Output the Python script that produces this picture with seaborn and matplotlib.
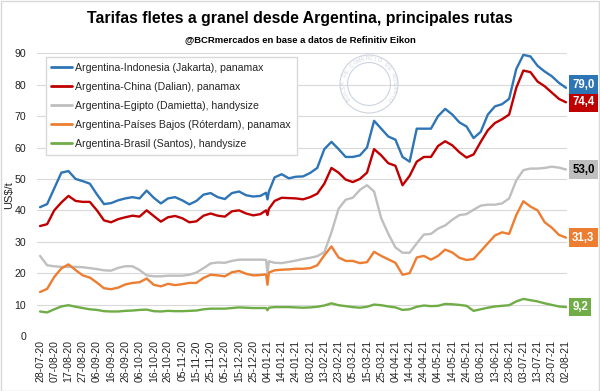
import numpy as np
import pandas as pd
import matplotlib
matplotlib.use("Agg")
import matplotlib.pyplot as plt
import matplotlib.dates as mdates
from matplotlib.patches import Ellipse, Rectangle
import seaborn as sns

# Sampling grid (every 5 days) and extra points around the 04-01-21 glitch
START = "2020-07-28"
END = "2021-08-02"
STEP = "5D"
EXTRA_DATES = ["2021-01-03", "2021-01-05"]

ROUTES = [
    "Argentina-Indonesia (Jakarta), panamax",
    "Argentina-China (Dalian), panamax",
    "Argentina-Egipto (Damietta), handysize",
    "Argentina-Países Bajos (Róterdam), panamax",
    "Argentina-Brasil (Santos), handysize",
]
COLORS = ["#2E75B6", "#C00000", "#BFBFBF", "#ED7D31", "#70AD47"]
LABEL_TEXT = ["white", "white", "black", "white", "white"]

INDONESIA = [41.0, 42.0, 47.0, 52.0, 52.5, 50.0, 49.3, 48.5, 45.1, 42.0, 42.3, 43.2, 43.8, 44.2, 43.8, 46.3, 44.0, 42.2, 43.8,
             44.2, 43.2, 41.9, 43.0, 45.0, 45.5, 44.2, 43.6, 45.5, 46.0, 44.8, 44.4, 44.6, 43.5, 50.5, 51.5, 50.2, 50.7,
             50.8, 51.9, 53.5, 59.5, 61.8, 59.5, 57.0, 57.0, 57.5, 60.0, 68.5, 66.0, 63.5, 62.5, 57.0, 55.5, 66.0, 66.0, 66.0,
             70.0, 72.3, 70.5, 68.0, 66.7, 63.0, 65.0, 70.5, 73.1, 73.8, 75.5, 85.0, 89.5, 89.0, 86.0, 84.2, 82.7, 80.6, 79.0]
CHINA = [35.0, 35.6, 40.0, 42.5, 44.6, 43.0, 42.7, 42.7, 40.0, 36.8, 36.2, 37.2, 37.8, 38.3, 38.0, 40.0, 38.2, 36.4, 37.8,
         38.2, 37.5, 36.2, 36.5, 38.3, 39.0, 38.3, 38.0, 39.7, 40.0, 39.0, 38.4, 38.8, 38.5, 43.0, 44.0, 43.9, 43.8,
         43.5, 44.2, 45.3, 48.5, 53.5, 52.0, 49.8, 49.0, 50.0, 52.0, 59.5, 57.5, 55.0, 54.2, 48.0, 51.0, 55.5, 57.0, 57.0,
         60.5, 62.0, 60.7, 58.5, 56.8, 57.8, 61.8, 65.5, 67.8, 69.0, 70.5, 79.0, 84.5, 84.0, 81.0, 79.5, 77.5, 75.5, 74.4]
EGIPTO = [25.5, 22.5, 22.2, 22.0, 22.0, 22.0, 21.9, 21.6, 21.3, 20.9, 20.8, 21.7, 22.2, 22.2, 21.0, 19.3, 19.0, 19.0, 19.2,
          19.2, 19.2, 19.5, 20.2, 21.6, 23.1, 23.4, 23.3, 23.9, 24.3, 24.3, 24.3, 24.3, 20.0, 23.3, 23.2, 23.6, 24.0,
          24.5, 24.9, 25.4, 26.7, 33.0, 40.5, 43.4, 44.0, 46.5, 48.0, 46.0, 37.5, 32.5, 28.2, 26.5, 26.5, 29.5, 32.3, 32.5,
          34.2, 35.2, 37.0, 38.5, 38.8, 40.2, 41.5, 41.8, 41.8, 42.2, 43.8, 49.5, 52.8, 53.3, 53.3, 53.5, 53.9, 53.6, 53.0]
PAISES_BAJOS = [14.0, 15.0, 18.8, 21.5, 22.8, 21.0, 19.3, 18.6, 17.0, 15.2, 14.9, 15.4, 16.4, 16.9, 17.1, 18.3, 16.3, 15.8, 16.6,
                16.2, 16.5, 16.9, 16.9, 18.5, 19.5, 19.3, 19.0, 20.3, 20.7, 19.8, 19.3, 19.4, 16.3, 20.9, 21.1, 21.2, 21.4,
                21.4, 21.6, 22.5, 25.7, 28.5, 25.0, 23.9, 23.9, 23.2, 23.5, 26.8, 25.5, 24.4, 23.3, 19.5, 20.0, 25.0, 25.5, 24.3,
                25.5, 27.5, 26.6, 24.9, 24.2, 24.5, 27.0, 29.5, 32.0, 33.0, 32.5, 38.5, 42.9, 41.2, 40.0, 36.2, 34.5, 32.2, 31.3]
BRASIL = [7.8, 7.5, 8.5, 9.4, 9.8, 9.3, 8.9, 8.5, 8.3, 7.9, 7.8, 7.8, 8.0, 8.1, 8.3, 8.4, 7.9, 7.8, 8.0,
          7.9, 7.9, 8.0, 8.1, 8.5, 8.7, 8.7, 8.7, 8.9, 9.1, 9.0, 8.9, 8.9, 8.2, 9.2, 9.2, 9.2, 9.1,
          9.0, 9.1, 9.3, 9.7, 10.4, 9.8, 9.5, 9.2, 9.0, 9.3, 10.0, 9.8, 9.4, 9.1, 8.3, 8.5, 9.3, 9.7, 9.5,
          9.6, 10.2, 10.1, 9.9, 9.6, 8.0, 8.5, 9.0, 9.4, 9.6, 9.8, 11.0, 11.8, 11.4, 11.0, 10.4, 9.9, 9.4, 9.2]

INDONESIA_EXTRA = [45.6, 46.0]
CHINA_EXTRA = [40.0, 40.5]
EGIPTO_EXTRA = [24.2, 23.8]
PAISES_BAJOS_EXTRA = [19.6, 20.2]
BRASIL_EXTRA = [8.9, 9.0]

TITLE = "Tarifas fletes a granel desde Argentina, principales rutas"
SUBTITLE = "@BCRmercados en base a datos de Refinitiv Eikon"
SEAL_TEXT = "BOLSA DE COMERCIO DE ROSARIO"


def build_frame():
    dates = list(pd.date_range(START, END, freq=STEP)) + list(pd.to_datetime(EXTRA_DATES))
    values = [INDONESIA + INDONESIA_EXTRA, CHINA + CHINA_EXTRA, EGIPTO + EGIPTO_EXTRA,
              PAISES_BAJOS + PAISES_BAJOS_EXTRA, BRASIL + BRASIL_EXTRA]
    frames = []
    for route, vals in zip(ROUTES, values):
        frames.append(pd.DataFrame({"fecha": dates, "valor": vals, "ruta": route}))
    df = pd.concat(frames, ignore_index=True)
    return df.sort_values(["ruta", "fecha"])


def draw_seal(fig, cx, cy, r):
    """Faint watermark seal, sizes in figure pixels."""
    w, h = fig.get_size_inches() * fig.dpi
    col = "#cdd4df"
    for rr in (r, r * 0.74):
        fig.add_artist(Ellipse((cx / w, 1 - cy / h), 2 * rr / w, 2 * rr / h,
                               transform=fig.transFigure, fill=False, ec=col, lw=0.8))
    angles = np.linspace(215, -35, len(SEAL_TEXT))
    rt = r * 0.87
    for ch, a in zip(SEAL_TEXT, angles):
        t = np.deg2rad(a)
        fig.text((cx + rt * np.cos(t)) / w, 1 - (cy - rt * np.sin(t)) / h, ch,
                 rotation=a - 90, ha="center", va="center", fontsize=3.8, color=col,
                 family="Liberation Sans")


def main():
    df = build_frame()
    sns.set_theme(style="white")
    plt.rcParams["font.family"] = ["Liberation Sans", "DejaVu Sans"]

    fig = plt.figure(figsize=(6.0, 3.91), dpi=100)
    ax = fig.add_axes([0.062, 0.1407, 0.883, 0.723])

    sns.lineplot(data=df, x="fecha", y="valor", hue="ruta", hue_order=ROUTES,
                 palette=COLORS, linewidth=1.7, ax=ax, estimator=None, sort=True)

    start = pd.Timestamp(START)
    end = pd.Timestamp(END)
    ax.set_xlim(start - pd.Timedelta(days=2), end + pd.Timedelta(days=0.7))
    ax.set_ylim(0, 90)
    ax.set_yticks(range(0, 91, 10))
    ax.set_xticks(pd.date_range(START, END, freq="10D"))
    ax.xaxis.set_major_formatter(mdates.DateFormatter("%d-%m-%y"))
    ax.tick_params(axis="x", rotation=90, labelsize=7.6, length=0, pad=3, colors="#222222")
    ax.tick_params(axis="y", labelsize=7.6, length=0, pad=8, colors="#222222")
    ax.grid(axis="y", color="#d9d9d9", lw=0.8)
    ax.grid(axis="x", visible=False)
    for s in ax.spines.values():
        s.set_visible(False)
    ax.set_xlabel("")
    ax.set_ylabel("US$/t", fontsize=8, labelpad=0, color="#222222")

    handles, labels = ax.get_legend_handles_labels()
    leg = ax.legend(handles, labels, loc="upper left", bbox_to_anchor=(0.016, 0.986),
                    borderaxespad=0, fontsize=7.6, frameon=True, fancybox=False,
                    handlelength=1.9, handletextpad=0.35, labelspacing=0.85,
                    borderpad=0.55, edgecolor="#d9d9d9", framealpha=1)
    for line in leg.get_lines():
        line.set_linewidth(2.0)

    # End-of-series value boxes, pushed apart when they would overlap
    last_vals = [INDONESIA[-1], CHINA[-1], EGIPTO[-1], PAISES_BAJOS[-1], BRASIL[-1]]
    order = np.argsort(last_vals)
    prev = None
    for k in order:
        y = last_vals[k]
        if prev is not None and y - prev < 5.6:
            y = prev + 5.6
        prev = y
        txt = f"{last_vals[k]:.1f}".replace(".", ",")
        ax.annotate(txt, xy=(end, y), xytext=(4.5, 0), textcoords="offset points",
                    ha="left", va="center", fontsize=8.3, fontweight="bold",
                    color=LABEL_TEXT[k], annotation_clip=False,
                    bbox=dict(boxstyle="square,pad=0.28", fc=COLORS[k], ec="none"))

    draw_seal(fig, 369, 84, 29)

    fig.text(0.5, 0.952, TITLE, ha="center", va="center", fontsize=11.4, fontweight="bold",
             color="black")
    fig.text(0.5, 0.899, SUBTITLE, ha="center", va="center", fontsize=6.8, fontweight="bold",
             color="black")

    fig.add_artist(Rectangle((0.001, 0.001), 0.997, 0.997, transform=fig.transFigure,
                             fill=False, ec="#d9d9d9", lw=1))

    fig.savefig("out.png", dpi=100)
    plt.close(fig)


if __name__ == "__main__":
    main()
